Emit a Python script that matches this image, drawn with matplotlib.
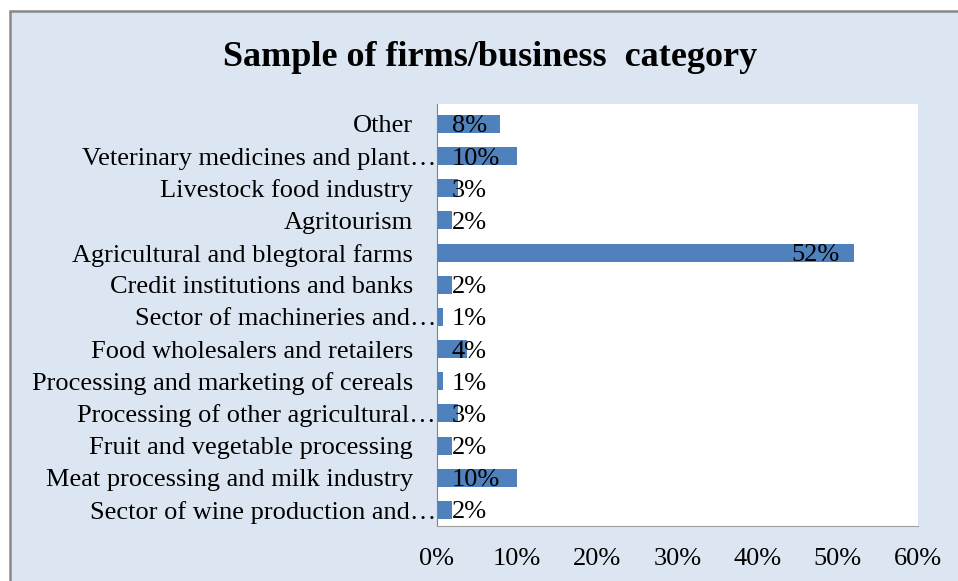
import matplotlib
matplotlib.use('Agg')
import matplotlib.pyplot as plt
from matplotlib.patches import Rectangle
from matplotlib.ticker import PercentFormatter

# categories, bottom to top
categories = ['Sector of wine production and\u2026',
              'Meat processing and milk industry',
              'Fruit and vegetable processing',
              'Processing of other agricultural\u2026',
              'Processing and marketing of cereals',
              'Food wholesalers and retailers',
              'Sector of machineries and\u2026',
              'Credit institutions and banks',
              'Agricultural and blegtoral farms',
              'Agritourism',
              'Livestock food industry',
              'Veterinary medicines and plant\u2026',
              'Other']
shares = [0.019, 0.10, 0.019, 0.026, 0.008, 0.038, 0.008, 0.019, 0.52,
          0.019, 0.026, 0.10, 0.079]
xticks = [0, 0.1, 0.2, 0.3, 0.4, 0.5, 0.6]

plt.rcParams['font.family'] = ['Liberation Serif', 'DejaVu Serif']
bg = '#DCE6F2'
barcol = '#4F81BD'
fs = 19

fig = plt.figure(figsize=(9.58, 5.81), dpi=100, facecolor='white')
# chart area frame
fig.patches.append(Rectangle((10/958, -0.1), 1.2, 1 - 11/581 + 0.1,
                             transform=fig.transFigure, facecolor=bg,
                             edgecolor='#888888', lw=1.8, zorder=-5))

ax = fig.add_axes([437/958, 1 - 526/581, 481/958, 422/581])
ax.set_zorder(2)
ax.set_facecolor('white')
y = list(range(len(categories)))
ax.barh(y, shares, height=0.56, color=barcol, zorder=2)
ax.set_xlim(0, 0.6)
ax.set_ylim(-0.5, len(categories) - 0.38)
ax.set_xticks(xticks)
ax.xaxis.set_major_formatter(PercentFormatter(1.0, decimals=0))
ax.tick_params(axis='x', length=0, pad=16, labelsize=fs)
ax.set_yticks([])
for s in ['top', 'right']:
    ax.spines[s].set_visible(False)
ax.spines['left'].set_color('#808080')
ax.spines['bottom'].set_color('#A0A0A0')

for i, (cat, v) in enumerate(zip(categories, shares)):
    off = -1 if cat.endswith('\u2026') else -24
    ax.annotate(cat, xy=(0, i), xycoords=('axes fraction', 'data'),
                xytext=(off, 0), textcoords='offset pixels',
                ha='right', va='center_baseline', fontsize=fs,
                annotation_clip=False)
    lab = '{:.0%}'.format(v)
    if v > 0.3:
        ax.annotate(lab, xy=(v, i), xytext=(-14, 0), textcoords='offset pixels',
                    ha='right', va='center_baseline', fontsize=fs, zorder=3)
    else:
        ax.annotate(lab, xy=(0, i), xytext=(15, 0), textcoords='offset pixels',
                    ha='left', va='center_baseline', fontsize=fs, zorder=3)

fig.text(490/958, 1 - 57/581, 'Sample of firms/business  category',
         ha='center', va='center', fontsize=26, fontweight='bold')

fig.savefig('out.png', dpi=100, facecolor=fig.get_facecolor())
